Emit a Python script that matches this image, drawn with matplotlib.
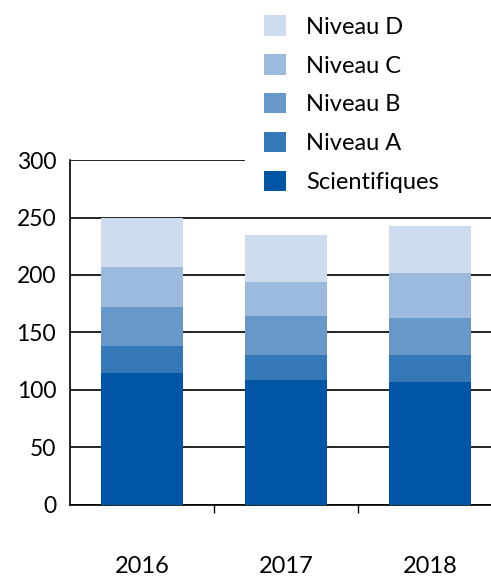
import numpy as np
import matplotlib.pyplot as plt
from matplotlib.patches import Rectangle

plt.rcParams['font.family'] = ['Lato', 'DejaVu Sans']

years = ['2016', '2017', '2018']
series = ['Scientifiques', 'Niveau A', 'Niveau B', 'Niveau C', 'Niveau D']
scientifiques = [115, 109, 107]
niveau_a = [23, 21, 23]
niveau_b = [34, 34, 33]
niveau_c = [35, 30, 39]
niveau_d = [43, 41, 41]
colors = ['#0055a4', '#3478b8', '#6699c9', '#9bbade', '#cddcee']


def main():
    fig = plt.figure(figsize=(4.91, 5.77), dpi=100)
    ax = fig.add_axes([0.1426, 0.1248, 0.8574, 0.5979])

    x = np.arange(len(years))
    bottom = np.zeros(len(years))
    handles = []
    for name, vals, col in zip(series, [scientifiques, niveau_a, niveau_b, niveau_c, niveau_d], colors):
        b = ax.bar(x, vals, bottom=bottom, width=0.57, color=col, label=name, zorder=3)
        handles.append(b)
        bottom += np.array(vals)

    ax.set_xlim(-0.5, 2.424)
    ax.set_ylim(0, 300)
    ax.set_yticks(np.arange(0, 301, 50))
    ax.yaxis.grid(True, color='black', linewidth=1.2, zorder=0)
    ax.set_axisbelow(True)
    ax.tick_params(axis='y', length=0, labelsize=16.5, pad=10)
    ax.set_xticks(x)
    ax.set_xticklabels(years)
    ax.set_xticks([0.5, 1.5], minor=True)
    ax.tick_params(axis='x', which='major', length=0, labelsize=17, pad=37)
    ax.tick_params(axis='x', which='minor', length=6, direction='out', width=1)

    for s in ['top', 'right']:
        ax.spines[s].set_visible(False)
    ax.spines['left'].set_linewidth(1.2)
    ax.spines['bottom'].set_linewidth(1.2)

    # white block behind the legend hides the top gridline
    fig.add_artist(Rectangle((245 / 491, 1 - 200 / 577), 1, 1, transform=fig.transFigure,
                             facecolor='white', edgecolor='none', zorder=5))

    leg = fig.legend(handles[::-1], series[::-1], loc='upper left',
                     bbox_to_anchor=(0.494, 1.01), frameon=False, fontsize=17,
                     handlelength=0.95, handleheight=0.95, labelspacing=0.7,
                     handletextpad=0.85, borderpad=0.4)
    leg.set_zorder(10)

    fig.savefig('out.png', dpi=100)


if __name__ == '__main__':
    main()
